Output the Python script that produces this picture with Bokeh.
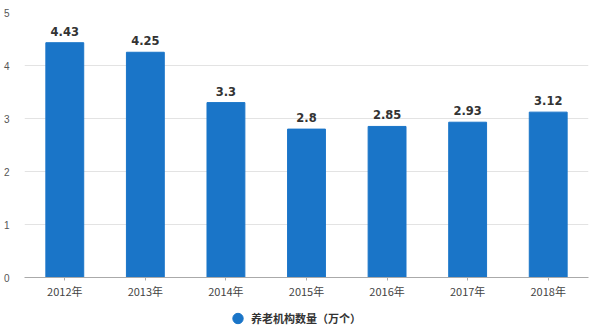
from bokeh.plotting import figure
from bokeh.models import ColumnDataSource, Legend, LegendItem, FixedTicker
from bokeh.layouts import column
from bokeh.core.properties import value
from bokeh.embed import file_html
from bokeh.resources import INLINE

years = ["2012年", "2013年", "2014年", "2015年", "2016年", "2017年", "2018年"]
counts = [4.43, 4.25, 3.3, 2.8, 2.85, 2.93, 3.12]
labels = ["4.43", "4.25", "3.3", "2.8", "2.85", "2.93", "3.12"]
series_name = "养老机构数量（万个）"
bar_color = "#1a75c8"

src = ColumnDataSource(dict(x=years, y=counts, t=labels))

p = figure(x_range=years, y_range=(0, 5), width=600, height=305,
           output_backend="svg", toolbar_location=None,
           min_border_left=22, min_border_right=12, min_border_top=12,
           min_border_bottom=28)
p.outline_line_color = None
p.background_fill_color = "white"
p.border_fill_color = "white"

p.vbar(x="x", top="y", width=0.47, source=src, color=bar_color)
p.text(x="x", y="y", text="t", source=src, text_align="center",
       text_baseline="bottom", y_offset=-7, text_font=value("DejaVu Sans"),
       text_font_size="11.5px", text_font_style="bold", text_color="#333333")

p.yaxis.ticker = FixedTicker(ticks=[0, 1, 2, 3, 4, 5])
p.yaxis.axis_line_color = None
p.yaxis.major_tick_line_color = None
p.yaxis.minor_tick_line_color = None
p.yaxis.major_label_text_font = "Liberation Sans"
p.yaxis.major_label_text_font_size = "10px"
p.yaxis.major_label_text_color = "#555555"
p.yaxis.major_label_standoff = 9

p.xaxis.axis_line_color = "#aaaaaa"
p.xaxis.major_tick_line_color = "#aaaaaa"
p.xaxis.major_tick_out = 3
p.xaxis.major_tick_in = 0
p.xaxis.major_label_text_font = "Noto Sans CJK SC"
p.xaxis.major_label_text_font_size = "11px"
p.xaxis.major_label_text_color = "#444444"
p.xaxis.major_label_standoff = 2

p.xgrid.grid_line_color = None
p.ygrid.grid_line_color = "#e3e3e3"
p.x_range.range_padding = 0.0

# legend strip
lg = figure(width=600, height=26, x_range=(0, 1), y_range=(0, 1),
            output_backend="svg", toolbar_location=None,
            min_border=0)
lg.axis.visible = False
lg.grid.visible = False
lg.outline_line_color = None
dummy = lg.scatter(x=[-5], y=[-5], marker="circle", size=11, color=bar_color)
legend = Legend(items=[LegendItem(label=series_name, renderers=[dummy])],
                orientation="horizontal", border_line_color=None,
                background_fill_alpha=0,
                label_text_font="Noto Sans CJK SC", label_text_font_size="11px",
                label_text_font_style="bold", label_text_color="#333333",
                glyph_width=27, glyph_height=26, padding=0, margin=0,
                label_standoff=0, location=(200, 0))
lg.add_layout(legend, "center")

layout = column(p, lg, spacing=0)
open("out.html", "w").write(file_html(layout, INLINE))
